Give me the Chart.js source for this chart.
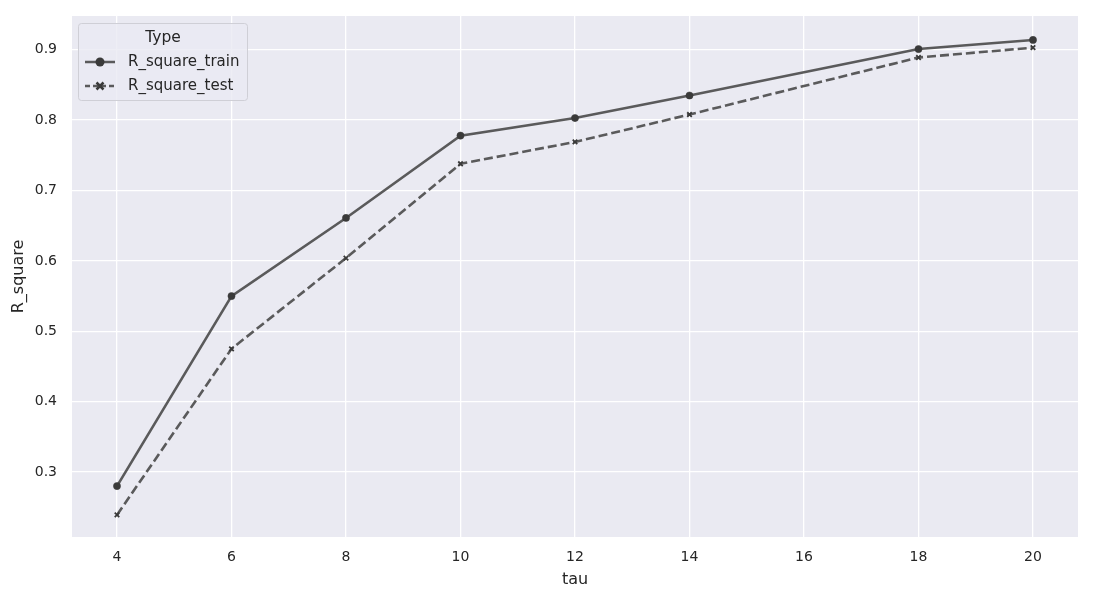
<!DOCTYPE html>
<html>
<head>
<meta charset="utf-8">
<script src="https://cdn.jsdelivr.net/npm/chart.js@4"></script>
<style>
  html, body { margin:0; padding:0; background:#fff; }
  #wrap { width:1097px; height:593px; position:relative; }
</style>
</head>
<body>
<div id="wrap"><canvas id="c" width="1097" height="593"></canvas></div>
<script>
const tau = [4, 6, 8, 10, 12, 14, 18, 20];
const rTrain = [0.280, 0.550, 0.661, 0.778, 0.803, 0.835, 0.901, 0.914];
const rTest = [0.239, 0.475, 0.604, 0.738, 0.769, 0.808, 0.889, 0.903];
const xTicks = [4, 6, 8, 10, 12, 14, 16, 18, 20];
const yTicks = [0.3, 0.4, 0.5, 0.6, 0.7, 0.8, 0.9];

const LINE = "rgba(70,70,70,0.88)";
const MARK = "#3a3a3a";
const FONT = "'DejaVu Sans', sans-serif";
const pts = a => tau.map((t, i) => ({x:t, y:a[i]}));

const bgPlugin = {
  id:"bg",
  beforeDraw(ch){
    const a = ch.chartArea, c = ch.ctx;
    c.save(); c.fillStyle = "#EAEAF2"; c.fillRect(a.left, a.top, a.right-a.left, a.bottom-a.top); c.restore();
  }
};

const legendPlugin = {
  id:"seaLegend",
  afterDraw(ch){
    const c = ch.ctx, x0 = 78, y0 = 23, w = 169, h = 77;
    c.save();
    c.fillStyle = "rgba(234,234,242,0.8)"; c.strokeStyle = "#cfcfd6"; c.lineWidth = 1;
    c.beginPath(); c.roundRect(x0+0.5, y0+0.5, w, h, 3); c.fill(); c.stroke();
    c.fillStyle = "#262626"; c.font = "15.5px " + FONT; c.textAlign = "center"; c.textBaseline = "middle";
    c.fillText("Type", 163, 38);
    c.textAlign = "left"; c.font = "15px " + FONT;
    const rows = [["R_square_train", [], "circle"], ["R_square_test", [5, 3], "crossRot"]];
    rows.forEach((r, i) => {
      const y = 62 + i*24;
      c.strokeStyle = LINE; c.lineWidth = 2.5; c.setLineDash(r[1]);
      c.beginPath(); c.moveTo(85, y); c.lineTo(115, y); c.stroke(); c.setLineDash([]);
      c.fillStyle = MARK; c.strokeStyle = MARK;
      if (r[2] === "circle"){ c.beginPath(); c.arc(100, y, 4.5, 0, Math.PI*2); c.fill(); }
      else { c.lineWidth = 2.5; c.beginPath(); c.moveTo(96.5, y-3.5); c.lineTo(103.5, y+3.5); c.moveTo(103.5, y-3.5); c.lineTo(96.5, y+3.5); c.stroke(); }
      c.fillStyle = "#262626"; c.fillText(r[0], 128, y);
    });
    c.restore();
  }
};

new Chart(document.getElementById("c"), {
  type:"line",
  data:{datasets:[
    {label:"R_square_train", data:pts(rTrain), borderColor:LINE, borderWidth:2.6, pointStyle:"circle", pointRadius:3.6, pointBackgroundColor:MARK, pointBorderColor:MARK, pointBorderWidth:0.5, tension:0},
    {label:"R_square_test", data:pts(rTest), borderColor:LINE, borderWidth:2.6, borderDash:[9,4], pointStyle:"crossRot", pointRadius:3.2, pointBorderColor:MARK, pointBorderWidth:1.8, tension:0}
  ]},
  options:{
    responsive:false, animation:false, devicePixelRatio:1,
    layout:{padding:{top:16, right:19, left:0, bottom:0}},
    plugins:{legend:{display:false}, tooltip:{enabled:false}},
    scales:{
      x:{type:"linear", min:3.214, max:20.786,
        afterBuildTicks: s => { s.ticks = xTicks.map(v => ({value:v})); },
        afterFit: s => { s.height = 56; s.paddingLeft = 0; s.paddingRight = 0; },
        grid:{color:"#ffffff", lineWidth:1.3, drawTicks:false}, border:{display:false},
        ticks:{color:"#262626", font:{family:FONT, size:14}, padding:12},
        title:{display:true, text:"tau", color:"#262626", font:{family:FONT, size:16}, padding:{top:2}}},
      y:{min:0.2076, max:0.948,
        afterBuildTicks: s => { s.ticks = yTicks.map(v => ({value:v})); },
        afterFit: s => { s.width = 72; s.paddingTop = 0; s.paddingBottom = 0; },
        grid:{color:"#ffffff", lineWidth:1.3, drawTicks:false}, border:{display:false},
        ticks:{color:"#262626", font:{family:FONT, size:14}, padding:15, callback:v => v.toFixed(1)},
        title:{display:true, text:"R_square", color:"#262626", font:{family:FONT, size:16}, padding:{top:9, bottom:0}}}
    }
  },
  plugins:[bgPlugin, legendPlugin]
});
</script>
</body>
</html>
